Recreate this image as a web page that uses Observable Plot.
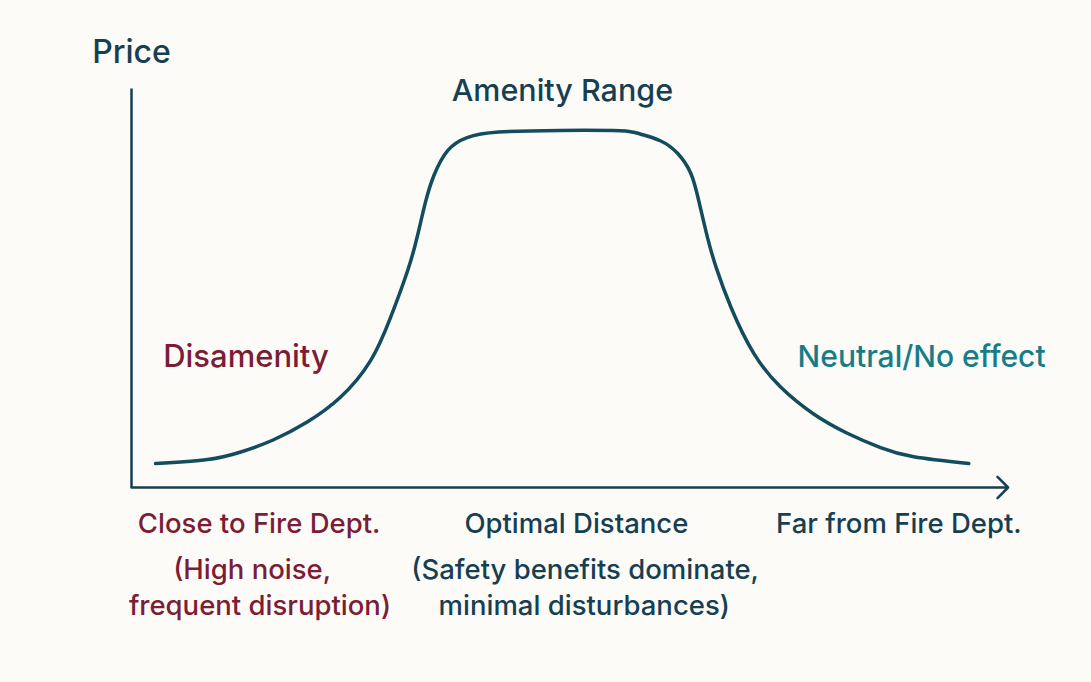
<!DOCTYPE html>
<html>
<head>
<meta charset="utf-8">
<script src="https://cdn.jsdelivr.net/npm/d3@7"></script>
<script src="https://cdn.jsdelivr.net/npm/@observablehq/plot@0.6"></script>
<style>
  html, body { margin: 0; padding: 0; background: #fcfbf7; }
  #chart svg { display: block; background: #fcfbf7; overflow: visible; }
</style>
</head>
<body>
<div id="chart"></div>
<script>
// Distance from fire department (0..100) and relative price (0..100)
const distance = [2.75, 8.7, 12.5, 16.2, 20.1, 23.9, 27.3, 29.6, 31.6, 32.7, 33.6, 34.6, 36.2, 38.4, 42.0, 49.1, 55.9, 58.2, 60.5, 62.5, 64.0, 64.9, 65.9, 66.9, 68.6, 71.2, 74.3, 78.0, 81.9, 85.7, 89.5, 95.8];
const price    = [6.0, 7.0, 8.9, 11.9, 16.4, 22.6, 31.6, 42.4, 54.4, 62.9, 71.2, 78.2, 84.5, 87.7, 89.1, 89.5, 89.4, 88.6, 86.9, 83.7, 78.7, 71.9, 62.7, 55.1, 45.1, 33.6, 25.1, 18.5, 13.6, 10.0, 7.7, 6.0];
const yAxisLabel = "Price";
const zoneLabels = ["Disamenity", "Amenity Range", "Neutral/No effect"];
const xCategoryLabels = ["Close to Fire Dept.", "Optimal Distance", "Far from Fire Dept."];
const xCategoryNotes = [["(High noise,", "frequent disruption)"], ["(Safety benefits dominate,", "minimal disturbances)"]];

const curve = distance.map((d, i) => ({distance: d, price: price[i]}));

const NAVY = "#173f52";
const LINE = "#134c5f";
const RED = "#7b1d35";
const TEAL = "#167d88";
const FONT = "Inter, 'Noto Sans', sans-serif";

const txt = (text, x, y, color, size) => Plot.text([text], {
  x: () => x, y: () => y, text: d => d,
  fill: color, fontSize: size, fontWeight: 500, fontFamily: FONT,
  textAnchor: "middle", lineAnchor: "middle"
});

const chart = Plot.plot({
  width: 1091,
  height: 682,
  marginLeft: 131,
  marginRight: 86,
  marginTop: 88,
  marginBottom: 195,
  style: {background: "#fcfbf7", fontFamily: FONT, overflow: "visible"},
  x: {domain: [0, 100], axis: null},
  y: {domain: [0, 100], axis: null},
  marks: [
    // axes
    Plot.link([0], {x1: 0, y1: 0, x2: 0, y2: 100, stroke: NAVY, strokeWidth: 2.5}),
    Plot.arrow([0], {x1: 0, y1: 0, x2: 100.3, y2: 0, stroke: NAVY, strokeWidth: 2.5, headLength: 9, headAngle: 90, inset: 0}),
    // curve
    Plot.line(curve, {x: "distance", y: "price", curve: "natural", stroke: LINE, strokeWidth: 3.5, strokeLinecap: "round"}),
    // labels
    txt(yAxisLabel, 0, 109, NAVY, 32),
    txt(zoneLabels[0], 13.1, 32.8, RED, 31),
    txt(zoneLabels[1], 49.3, 99.2, NAVY, 30.5),
    txt(zoneLabels[2], 90.4, 32.6, TEAL, 30),
    txt(xCategoryLabels[0], 14.6, -9.3, RED, 27.5),
    txt(xCategoryNotes[0][0], 13.8, -20.6, RED, 27.5),
    txt(xCategoryNotes[0][1], 14.7, -29.8, RED, 27.5),
    txt(xCategoryLabels[1], 50.9, -9.3, NAVY, 27.5),
    txt(xCategoryNotes[1][0], 51.9, -20.6, NAVY, 27.5),
    txt(xCategoryNotes[1][1], 51.8, -29.8, NAVY, 27.5),
    txt(xCategoryLabels[2], 87.8, -9.3, NAVY, 27.5)
  ]
});
document.getElementById("chart").appendChild(chart);
</script>
</body>
</html>
